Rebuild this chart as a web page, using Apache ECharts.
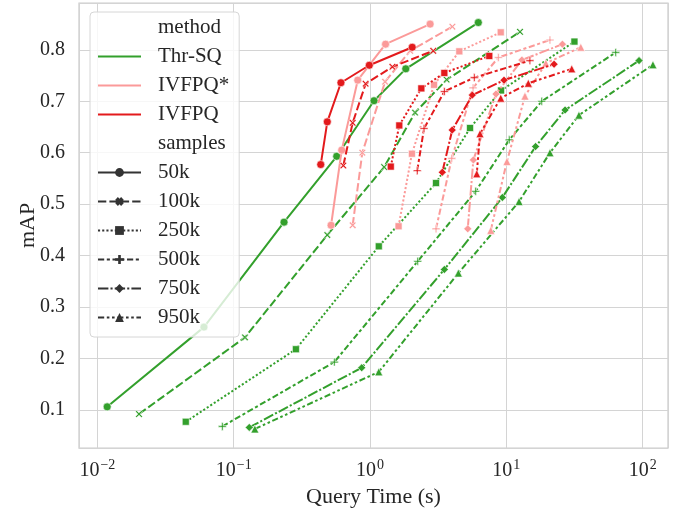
<!DOCTYPE html>
<html>
<head>
<meta charset="utf-8">
<script src="https://cdn.jsdelivr.net/npm/echarts@6/dist/echarts.min.js"></script>
<style>
  html, body { margin: 0; padding: 0; background: #fff; }
  #chart { width: 674px; height: 517px; }
</style>
</head>
<body>
<div id="chart"></div>
<script>
// query time (s), mAP
const thr50k = [[0.0118, 0.106], [0.0605, 0.261], [0.234, 0.465], [0.570, 0.593], [1.07, 0.701], [1.83, 0.763], [6.23, 0.853]];
const thr100k = [[0.0202, 0.092], [0.121, 0.241], [0.486, 0.440], [1.27, 0.572], [2.14, 0.678], [3.65, 0.742], [12.6, 0.835]];
const thr250k = [[0.0445, 0.077], [0.286, 0.218], [1.16, 0.418], [3.05, 0.541], [5.42, 0.648], [9.15, 0.721], [31.6, 0.816]];
const thr500k = [[0.0825, 0.068], [0.547, 0.193], [2.24, 0.389], [5.96, 0.525], [10.5, 0.625], [18.2, 0.700], [63.5, 0.795]];
const thr750k = [[0.130, 0.066], [0.869, 0.182], [3.51, 0.373], [9.35, 0.513], [16.4, 0.612], [27.0, 0.683], [94.1, 0.779]];
const thr950k = [[0.143, 0.063], [1.16, 0.174], [4.45, 0.366], [12.4, 0.505], [20.9, 0.600], [34.1, 0.673], [119, 0.771]];

const ivs50k = [[0.518, 0.459], [0.620, 0.605], [0.813, 0.741], [1.30, 0.811], [2.76, 0.850]];
const ivs100k = [[0.746, 0.459], [0.878, 0.600], [1.29, 0.738], [1.97, 0.798], [4.02, 0.845]];
const ivs250k = [[1.62, 0.457], [2.03, 0.598], [2.95, 0.732], [4.52, 0.797], [9.10, 0.834]];
const ivs500k = [[3.05, 0.452], [3.98, 0.589], [5.70, 0.726], [8.74, 0.785], [20.9, 0.819]];
const ivs750k = [[5.21, 0.452], [5.73, 0.586], [8.40, 0.714], [13.0, 0.780], [25.8, 0.811]];
const ivs950k = [[7.69, 0.449], [10.1, 0.583], [13.7, 0.710], [19.5, 0.774], [35.2, 0.805]];

const iv50k = [[0.435, 0.577], [0.486, 0.660], [0.612, 0.736], [0.988, 0.770], [2.04, 0.805]];
const iv100k = [[0.637, 0.575], [0.746, 0.658], [0.929, 0.734], [1.46, 0.767], [2.91, 0.798]];
const iv250k = [[1.42, 0.573], [1.64, 0.653], [2.38, 0.725], [3.51, 0.755], [7.50, 0.788]];
const iv500k = [[2.22, 0.565], [2.49, 0.647], [3.51, 0.719], [5.82, 0.746], [14.9, 0.779]];
const iv750k = [[3.39, 0.562], [4.01, 0.644], [5.63, 0.712], [9.62, 0.741], [22.4, 0.772]];
const iv950k = [[6.07, 0.559], [6.41, 0.637], [9.10, 0.706], [14.5, 0.735], [30.2, 0.763]];

const methods = ['Thr-SQ', 'IVFPQ*', 'IVFPQ'];
const samples = ['50k', '100k', '250k', '500k', '750k', '950k'];
const methodData = [
  [thr50k, thr100k, thr250k, thr500k, thr750k, thr950k],
  [ivs50k, ivs100k, ivs250k, ivs500k, ivs750k, ivs950k],
  [iv50k, iv100k, iv250k, iv500k, iv750k, iv950k]
];

const colors = ['#33a02c', '#fb9a99', '#e31a1c'];
const dashes = ['solid', [8.3, 3.1], [2.1, 2.1], [6.2, 2.6, 3.1, 2.6], [10.4, 2.1, 2.1, 2.1], [6.2, 2.6, 2.6, 2.6, 2.6, 2.6]];

// thin marks for the plot, fat ones for the legend
const xThin = 'path://M-2,-3 L0,-1 L2,-3 L3,-2 L1,0 L3,2 L2,3 L0,1 L-2,3 L-3,2 L-1,0 L-3,-2 Z';
const plusThin = 'path://M-0.6,-3 H0.6 V-0.6 H3 V0.6 H0.6 V3 H-0.6 V0.6 H-3 V-0.6 H-0.6 Z';
const xFat = 'path://M-1.1,-3 L0,-1.9 L1.1,-3 L3,-1.1 L1.9,0 L3,1.1 L1.1,3 L0,1.9 L-1.1,3 L-3,1.1 L-1.9,0 L-3,-1.1 Z';
const plusFat = 'path://M-0.9,-3 H0.9 V-0.9 H3 V0.9 H0.9 V3 H-0.9 V0.9 H-3 V-0.9 H-0.9 Z';
const markers = ['circle', xThin, 'rect', plusThin, 'diamond', 'triangle'];
const legendMarkers = ['circle', xFat, 'rect', plusFat, 'diamond', 'triangle'];
const markerSizes = [8, 7, 7, 8, 8, 8];

const font = '"Liberation Serif", "DejaVu Serif", serif';
const textColor = '#262626';
const clear = 'rgba(0,0,0,0)';

const series = [];
methods.forEach((m, mi) => {
  samples.forEach((s, si) => {
    series.push({
      name: m + ' ' + s,
      type: 'line',
      data: methodData[mi][si],
      symbol: markers[si],
      symbolSize: markerSizes[si],
      color: colors[mi],
      itemStyle: { color: colors[mi], borderColor: '#fff', borderWidth: 0.6 },
      lineStyle: { width: 2, color: colors[mi], type: dashes[si] },
      z: 2 + mi
    });
  });
});

// legend-only entries
const legendEntries = ['method'].concat(methods, ['samples'], samples);
series.push({ name: 'method', type: 'line', data: [], symbol: 'circle', itemStyle: { color: clear }, lineStyle: { color: clear } });
series.push({ name: 'samples', type: 'line', data: [], symbol: 'circle', itemStyle: { color: clear }, lineStyle: { color: clear } });
methods.forEach((m, mi) => {
  series.push({ name: m, type: 'line', data: [], symbol: 'circle', itemStyle: { color: clear, borderWidth: 0 }, lineStyle: { color: colors[mi], width: 2 } });
});
samples.forEach((s, si) => {
  series.push({ name: s, type: 'line', data: [], symbol: legendMarkers[si], itemStyle: { color: '#333333', borderWidth: 0 }, lineStyle: { color: '#333333', width: 2, type: dashes[si] } });
});

function logLabel(v) {
  const e = Math.round(Math.log10(v));
  if (Math.abs(Math.log10(v) - e) > 1e-6) return '';
  return '{b|10}{s|' + (e < 0 ? '\u2212' + (-e) : e) + '}';
}

const chart = echarts.init(document.getElementById('chart'));
chart.setOption({
  animation: false,
  backgroundColor: '#fff',
  textStyle: { fontFamily: font },
  grid: {
    left: 79, right: 6, top: 3, bottom: 69,
    show: true, borderColor: '#cccccc', borderWidth: 1.25
  },
  legend: {
    data: legendEntries,
    orient: 'vertical',
    left: 90, top: 12,
    padding: [5, 10, 9, 7],
    itemWidth: 43, itemHeight: 11, itemGap: 8,
    selectedMode: false,
    backgroundColor: 'rgba(255,255,255,0.8)',
    borderColor: '#d6d6d6', borderWidth: 1, borderRadius: 4,
    itemStyle: { borderWidth: 0 },
    textStyle: { fontFamily: font, fontSize: 21, color: textColor, lineHeight: 21, padding: [0, 0, 0, 12] }
  },
  xAxis: {
    type: 'log',
    logBase: 10,
    min: 0.00733,
    max: 153.5,
    name: 'Query Time (s)',
    nameLocation: 'middle',
    nameGap: 38,
    nameMoveOverlap: false,
    nameTextStyle: { fontFamily: font, fontSize: 22, color: textColor },
    axisLine: { show: false },
    axisTick: { show: false },
    splitLine: { show: true, lineStyle: { color: '#d4d4d4', width: 1 } },
    axisLabel: {
      margin: 10,
      showMinLabel: false, showMaxLabel: false,
      formatter: logLabel,
      rich: {
        b: { fontFamily: font, fontSize: 20, color: textColor, verticalAlign: 'bottom' },
        s: { fontFamily: font, fontSize: 14, color: textColor, verticalAlign: 'bottom', padding: [0, 0, 9, 1] }
      }
    }
  },
  yAxis: {
    type: 'value',
    min: 0.026,
    max: 0.891,
    splitNumber: 8,
    minInterval: 0.1,
    maxInterval: 0.1,
    name: 'mAP',
    nameLocation: 'middle',
    nameGap: 40,
    nameMoveOverlap: false,
    nameTextStyle: { fontFamily: font, fontSize: 22, color: textColor },
    axisLine: { show: false },
    axisTick: { show: false },
    splitLine: { show: true, lineStyle: { color: '#d4d4d4', width: 1 } },
    axisLabel: {
      margin: 14,
      showMinLabel: false, showMaxLabel: false,
      fontFamily: font, fontSize: 20, color: textColor,
      formatter: v => v.toFixed(1)
    }
  },
  series: series
});
</script>
</body>
</html>
